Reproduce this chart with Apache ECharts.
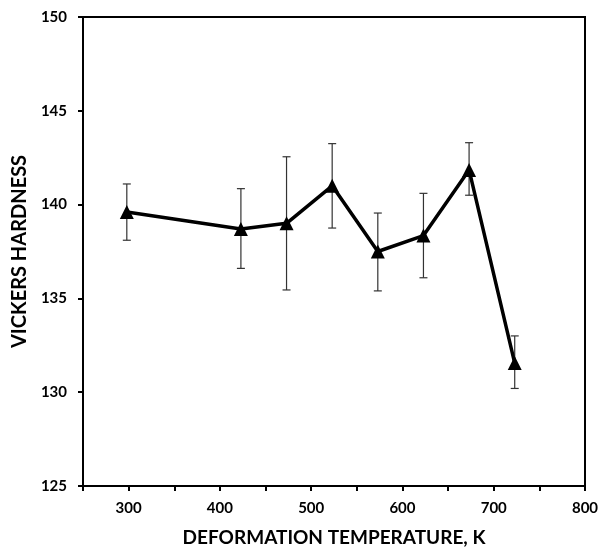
<!DOCTYPE html>
<html>
<head>
<meta charset="utf-8">
<script src="https://cdn.jsdelivr.net/npm/echarts@6/dist/echarts.min.js"></script>
<style>html,body{margin:0;padding:0;background:#fff}#c{width:608px;height:547px}</style>
</head>
<body>
<div id="c"></div>
<script>
const temperatures = [298, 423, 473, 523, 573, 623, 673, 723];
const hardness = [139.6, 138.7, 139.0, 141.0, 137.5, 138.35, 141.85, 131.55];
const errUpper = [141.1, 140.85, 142.55, 143.25, 139.55, 140.6, 143.3, 133.0];
const errLower = [138.1, 136.6, 135.45, 138.75, 135.4, 136.1, 140.5, 130.2];
const xTicks = [300, 400, 500, 600, 700, 800];
const yTicks = [125, 130, 135, 140, 145, 150];

const font = 'Lato, "Open Sans", sans-serif';
const chart = echarts.init(document.getElementById('c'), null, {renderer: 'canvas'});
chart.setOption({
  animation: false,
  backgroundColor: '#fff',
  grid: {left: 83, right: 23, top: 17, bottom: 61, show: true, borderColor: '#000', borderWidth: 2,
    containLabel: false, outerBoundsMode: 'none'},
  xAxis: {
    type: 'value', min: 250, max: 800, interval: 50,
    name: 'DEFORMATION TEMPERATURE, K', nameLocation: 'middle', nameGap: 42,
    nameTextStyle: {fontFamily: font, fontWeight: 'bold', fontSize: 19, color: '#000'},
    axisLine: {lineStyle: {color: '#000', width: 2}},
    axisTick: {show: true, length: 5, lineStyle: {color: '#000', width: 2}},
    axisLabel: {fontFamily: font, fontWeight: 'bold', fontSize: 15, color: '#000', margin: 15,
      formatter: v => xTicks.includes(v) ? String(v) : ''},
    splitLine: {show: false}
  },
  yAxis: {
    type: 'value', min: yTicks[0], max: yTicks[yTicks.length - 1], interval: 5,
    name: 'VICKERS HARDNESS', nameLocation: 'middle', nameGap: 45,
    nameTextStyle: {fontFamily: font, fontWeight: 'bold', fontSize: 20, color: '#000'},
    axisLine: {lineStyle: {color: '#000', width: 2}},
    axisTick: {show: true, length: 5, lineStyle: {color: '#000', width: 2}},
    axisLabel: {fontFamily: font, fontWeight: 'bold', fontSize: 15, color: '#000', margin: 16},
    splitLine: {show: false}
  },
  series: [
    {
      type: 'custom',
      data: temperatures.map((t, i) => [t, errLower[i], errUpper[i]]),
      renderItem: function (params, api) {
        const lo = api.coord([api.value(0), api.value(1)]);
        const hi = api.coord([api.value(0), api.value(2)]);
        const w = 4;
        const style = {stroke: '#333', lineWidth: 1.2};
        return {type: 'group', children: [
          {type: 'line', shape: {x1: hi[0], y1: hi[1], x2: lo[0], y2: lo[1]}, style: style},
          {type: 'line', shape: {x1: hi[0] - w, y1: hi[1], x2: hi[0] + w, y2: hi[1]}, style: style},
          {type: 'line', shape: {x1: lo[0] - w, y1: lo[1], x2: lo[0] + w, y2: lo[1]}, style: style}
        ]};
      },
      z: 1
    },
    {
      type: 'line',
      data: temperatures.map((t, i) => [t, hardness[i]]),
      symbol: 'triangle', symbolSize: 14,
      lineStyle: {color: '#000', width: 3.5},
      itemStyle: {color: '#000'},
      z: 3
    }
  ]
});
</script>
</body>
</html>
